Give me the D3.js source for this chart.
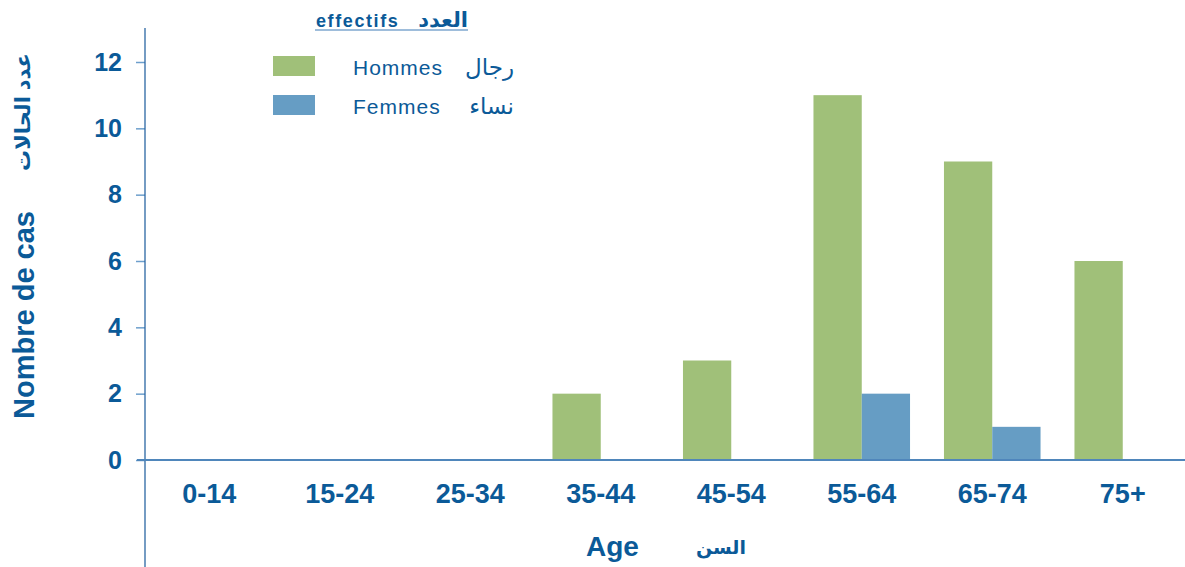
<!DOCTYPE html>
<html>
<head>
<meta charset="utf-8">
<script src="https://cdn.jsdelivr.net/npm/d3@7.9.0/dist/d3.min.js"></script>
<style>
  body { margin: 0; background: #fff; }
  svg { display: block; font-family: "Liberation Sans", Arial, "DejaVu Sans", sans-serif; }
</style>
</head>
<body>
<svg id="chart" width="1185" height="567"></svg>
<script>
// data
const ageGroups = ['0-14', '15-24', '25-34', '35-44', '45-54', '55-64', '65-74', '75+'];
const hommes = [0, 0, 0, 2, 3, 11, 9, 6];
const femmes = [0, 0, 0, 0, 0, 2, 1, 0];
const yTicks = [0, 2, 4, 6, 8, 10, 12];
const seriesNames = [
  { fr: 'Hommes', ar: 'رجال', color: '#a0c079' },
  { fr: 'Femmes', ar: 'نساء', color: '#669dc4' }
];

const textColor = '#0b5a98';
const svg = d3.select('#chart');

const x = d3.scaleBand()
  .domain(ageGroups)
  .range([144, 1188])
  .paddingInner(0.26)
  .paddingOuter(0.13);

const sub = d3.scaleBand()
  .domain(['h', 'f'])
  .range([0, x.bandwidth()]);

const y = d3.scaleLinear().domain([0, 12]).range([460, 62]);

// bars
const rows = ageGroups.map((g, i) => ({ g, h: hommes[i], f: femmes[i] }));
const groups = svg.append('g').selectAll('g')
  .data(rows)
  .join('g')
  .attr('transform', d => `translate(${x(d.g)},0)`);

groups.append('rect')
  .attr('x', sub('h'))
  .attr('width', sub.bandwidth())
  .attr('y', d => y(d.h))
  .attr('height', d => y(0) - y(d.h))
  .attr('fill', seriesNames[0].color);

groups.append('rect')
  .attr('x', sub('f'))
  .attr('width', sub.bandwidth())
  .attr('y', d => y(d.f))
  .attr('height', d => y(0) - y(d.f))
  .attr('fill', seriesNames[1].color);

// y axis
const yAxis = svg.append('g')
  .attr('transform', 'translate(145,0)')
  .call(d3.axisLeft(y).tickValues(yTicks).tickSize(9).tickPadding(14));
yAxis.select('.domain').remove();
yAxis.selectAll('.tick line').attr('stroke', '#6d9fcc').attr('stroke-width', 1.5);
yAxis.selectAll('.tick text')
  .attr('fill', textColor)
  .attr('font-size', 25)
  .attr('font-weight', 'bold')
  .attr('font-family', '"Liberation Sans", Arial, sans-serif');

svg.append('line')
  .attr('x1', 145).attr('x2', 145)
  .attr('y1', 28).attr('y2', 567)
  .attr('stroke', '#2a66a3').attr('stroke-width', 1.3);

// baseline
svg.append('line')
  .attr('x1', 137).attr('x2', 1185)
  .attr('y1', y(0)).attr('y2', y(0))
  .attr('stroke', '#4f86bb').attr('stroke-width', 2);

// x axis labels
const xAxis = svg.append('g')
  .attr('transform', `translate(0,${y(0)})`)
  .call(d3.axisBottom(x).tickSize(0).tickPadding(24));
xAxis.select('.domain').remove();
xAxis.selectAll('.tick text')
  .attr('fill', textColor)
  .attr('font-size', 27)
  .attr('font-weight', 'bold')
  .attr('font-family', '"Liberation Sans", Arial, sans-serif');

// axis titles
svg.append('text')
  .attr('x', 586).attr('y', 556)
  .attr('fill', textColor)
  .attr('font-size', 28)
  .attr('font-weight', 'bold')
  .text('Age');

svg.append('text')
  .attr('x', 746).attr('y', 554)
  .attr('text-anchor', 'end')
  .attr('fill', textColor)
  .attr('font-size', 19)
  .attr('font-weight', 'bold')
  .text('السن');

svg.append('text')
  .attr('transform', 'translate(34,315) rotate(-90)')
  .attr('text-anchor', 'middle')
  .attr('fill', textColor)
  .attr('font-size', 29)
  .attr('font-weight', 'bold')
  .text('Nombre de cas');

svg.append('text')
  .attr('transform', 'translate(30,112) rotate(-90)')
  .attr('text-anchor', 'middle')
  .attr('fill', textColor)
  .attr('font-size', 21)
  .attr('font-weight', 'bold')
  .text('عدد الحالات');

// legend title
svg.append('text')
  .attr('x', 316).attr('y', 27)
  .attr('fill', textColor)
  .attr('font-size', 18)
  .attr('font-weight', 'bold')
  .attr('letter-spacing', 1.6)
  .text('effectifs');

svg.append('text')
  .attr('x', 468).attr('y', 27)
  .attr('text-anchor', 'end')
  .attr('fill', textColor)
  .attr('font-size', 21)
  .attr('font-weight', 'bold')
  .text('العدد');

svg.append('line')
  .attr('x1', 315).attr('x2', 468)
  .attr('y1', 30).attr('y2', 30)
  .attr('stroke', '#3f7db8').attr('stroke-width', 1.2);

// legend entries
const legend = svg.append('g').selectAll('g')
  .data(seriesNames)
  .join('g')
  .attr('transform', (d, i) => `translate(273,${56 + i * 39})`);

legend.append('rect')
  .attr('width', 42).attr('height', 20)
  .attr('fill', d => d.color);

legend.append('text')
  .attr('x', 80).attr('y', 19)
  .attr('fill', textColor)
  .attr('font-size', 21)
  .attr('letter-spacing', 1)
  .text(d => d.fr);

legend.append('text')
  .attr('x', 241).attr('y', 19)
  .attr('text-anchor', 'end')
  .attr('fill', textColor)
  .attr('font-size', 23)
  .text(d => d.ar);
</script>
</body>
</html>
